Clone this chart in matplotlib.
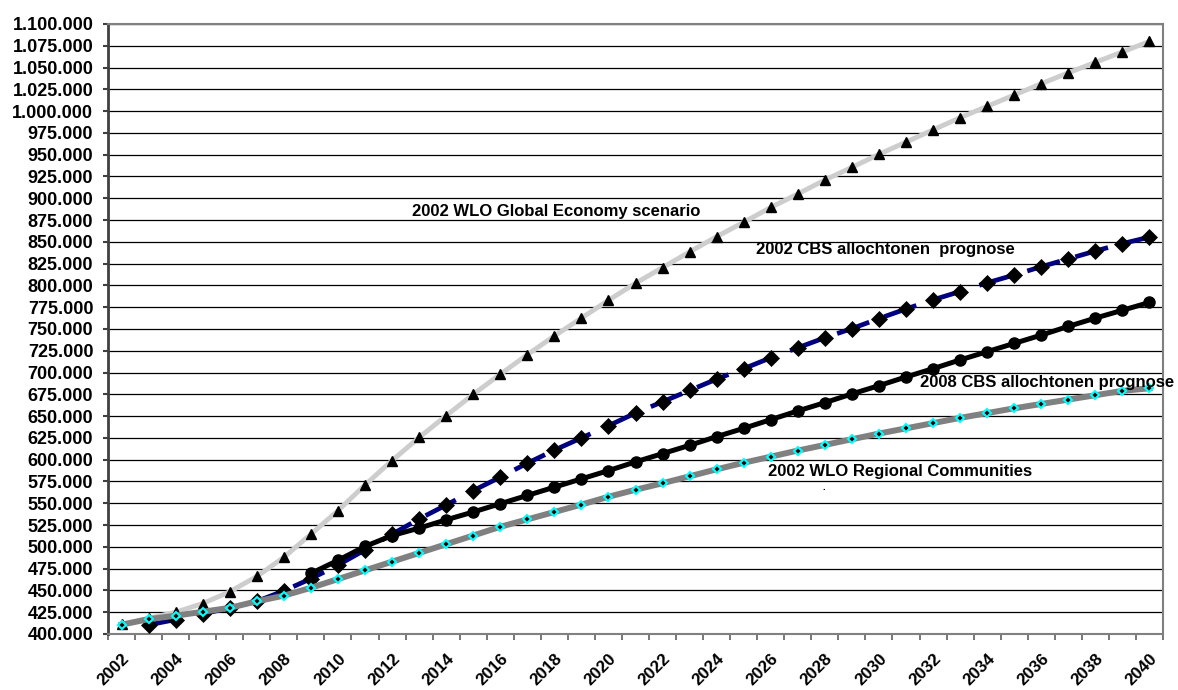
import matplotlib.pyplot as plt
import matplotlib.transforms as mtransforms
import numpy as np
from matplotlib.ticker import FuncFormatter

nan = np.nan

years = list(range(2002, 2041))

# 2002 WLO Global Economy scenario
wlo_global = [411000, 418000, 425000, 435000, 448500, 466000, 488000, 514500, 541500, 571000,
              599000, 625500, 650500, 675000, 698000, 720500, 742000, 762500, 783000, 802500,
              820500, 838500, 856000, 872500, 889500, 905000, 921000, 935500, 950500, 964500,
              978500, 992500, 1005500, 1018500, 1031500, 1044000, 1056000, 1068000, 1080000]

# 2002 CBS allochtonen prognose
cbs_2002 = [nan, 410500, 416500, 423000, 430000, 437500, 449500, 463500, 479000, 496500,
            514500, 532000, 548000, 564500, 580000, 596000, 611000, 625000, 639000, 653500,
            666500, 679500, 692500, 704500, 717000, 728500, 740000, 750500, 762000, 773000,
            783500, 793000, 803000, 812000, 821500, 830500, 839500, 848000, 855500]

# 2008 CBS allochtonen prognose
cbs_2008 = [nan, nan, nan, nan, nan, nan, nan, 469500, 484500, 500500,
            513000, 521500, 531000, 540000, 549500, 559000, 568500, 578000, 587500, 597500,
            607000, 616500, 626500, 636000, 646000, 656000, 665500, 675500, 685000, 695000,
            704500, 714500, 724000, 733500, 743000, 753000, 762500, 771500, 780500]

# 2002 WLO Regional Communities
wlo_regional = [410700, 417000, 421000, 425500, 430000, 437500, 444000, 453000, 463000, 473000,
                483000, 493000, 503000, 513000, 523000, 531500, 540000, 548500, 557500, 565500,
                573000, 581000, 589000, 596500, 603500, 610500, 617000, 623500, 630000, 636000,
                642000, 648000, 653500, 659000, 664000, 669000, 674000, 679000, 682000]

plt.rcParams['font.family'] = ['Liberation Sans', 'DejaVu Sans']
plt.rcParams['font.weight'] = 'bold'

fig = plt.figure(figsize=(11.78, 6.90), dpi=100)
ax = fig.add_axes([108 / 1178, 56 / 690, 1055 / 1178, 610 / 690])

x = np.arange(len(years))

ax.plot(x, wlo_global, color='#cdcdcd', lw=3.5, marker='^', ms=6.5,
        mfc='black', mec='black', zorder=3)
ax.plot(x, cbs_2002, color='#000080', lw=3.4, dashes=(7.2, 3.4), marker='D', ms=7.8,
        mfc='black', mec='black', mew=0.5, zorder=4)
ax.plot(x, cbs_2008, color='black', lw=3.6, marker='o', ms=8,
        mfc='black', mec='black', zorder=5)
ax.plot(x, wlo_regional, color='#808080', lw=4.3, marker='D', ms=4.2,
        mfc='black', mec='#00ffff', mew=1.5, zorder=6)

# axes
ax.set_xlim(-0.5, len(years) - 0.5)
ax.set_ylim(400000, 1100000)
ax.set_yticks(np.arange(400000, 1100001, 25000))
ax.yaxis.set_major_formatter(FuncFormatter(lambda v, p: f"{int(v):,}".replace(',', '.')))
ax.yaxis.grid(True, color='black', lw=0.9)
ax.set_axisbelow(True)

ax.set_xticks(x[::2])
ax.set_xticklabels([str(y) for y in years[::2]])
ax.set_xticks(np.arange(-0.5, len(years), 1), minor=True)
shift = mtransforms.ScaledTranslation(-4 / 100, 0, fig.dpi_scale_trans)
for lbl in ax.get_xticklabels():
    lbl.set_rotation(45)
    lbl.set_ha('right')
    lbl.set_va('top')
    lbl.set_rotation_mode('anchor')
    lbl.set_transform(lbl.get_transform() + shift)

ax.tick_params(axis='y', length=3.6, width=1.5, color='#404040', pad=7, labelsize=13)
ax.tick_params(axis='x', which='major', length=0, pad=12, labelsize=12.2)
ax.tick_params(axis='x', which='minor', length=4, width=1.2, color='#606060')

for s in ['top', 'right', 'bottom']:
    ax.spines[s].set_color('#808080')
    ax.spines[s].set_linewidth(1.5)
ax.spines['left'].set_color('#404040')
ax.spines['left'].set_linewidth(2)

# labels in the plot
ax.text(10.73, 885000, '2002 WLO Global Economy scenario', fontsize=12, fontweight='bold',
        ha='left', va='center')
ax.text(23.46, 841000, '2002 CBS allochtonen  prognose', fontsize=12, fontweight='bold',
        ha='left', va='center')
ax.text(29.52, 688300, '2008 CBS allochtonen prognose', fontsize=12, fontweight='bold',
        ha='left', va='center', zorder=7)
ax.text(23.9, 586600, '2002 WLO Regional Communities', fontsize=12, fontweight='bold',
        ha='left', va='center')
ax.text(25.97, 565600, '.', fontsize=7, ha='center', va='baseline')

fig.savefig('out.png', dpi=100)
